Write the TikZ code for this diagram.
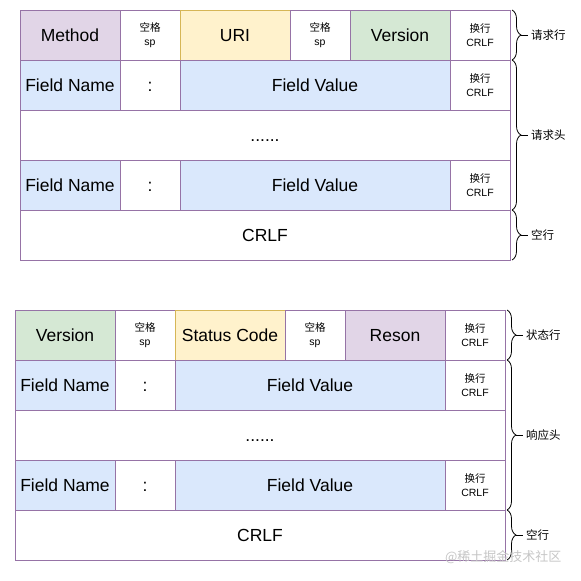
\documentclass[tikz,border=0pt]{standalone}
\usepackage{fontspec}
\setmainfont{Liberation Sans}
\newfontfamily\cjk{Noto Sans CJK SC}
\usepackage{tikz}
\usetikzlibrary{positioning}
\usetikzlibrary{decorations.pathreplacing}

\definecolor{lineBorder}{HTML}{9673A6}
\definecolor{lineYellow}{HTML}{D6B656}
\definecolor{fillPurple}{HTML}{E1D5E7}
\definecolor{fillYellow}{HTML}{FFF2CC}
\definecolor{fillGreen}{HTML}{D5E8D4}
\definecolor{fillBlue}{HTML}{DAE8FC}

\tikzset{
  cellBox/.style={
    draw=lineBorder, line width=0.8pt,
    rectangle, inner sep=0pt, outer sep=0pt,
    minimum height=50pt, align=center
  },
  cell/.style 2 args={
    cellBox, minimum width=#1, fill=#2,
    font=\fontsize{17.5}{21}\selectfont,
    text height=15.8pt, text depth=3.7pt
  },
  smallCell/.style={cellBox, minimum width=60pt, fill=white, font=\fontsize{10.5}{14}\selectfont},
  braceLine/.style={decorate, decoration={brace, amplitude=9pt}, line width=0.8pt},
  braceTick/.style={line width=0.8pt},
  braceText/.style={inner sep=3pt, font=\cjk\fontsize{11.5}{13}\selectfont}
}

\begin{document}
\begin{tikzpicture}[
  % cells are laid out in pt, one pt per pixel of the target
]

\useasboundingbox (0,0) rectangle (581pt,-581pt);

% --- request line ---
\node [cell={100pt}{fillPurple}, anchor=north west] (reqFirst) at (20pt,-10pt) {Method};
\node [smallCell, right=0pt of reqFirst] (reqSp1) {{\cjk 空格}\\sp};
\node [cell={110pt}{fillYellow}, draw=lineYellow, right=0pt of reqSp1] (reqMid) {URI};
\node [smallCell, right=0pt of reqMid] (reqSp2) {{\cjk 空格}\\sp};
\node [cell={100pt}{fillGreen}, right=0pt of reqSp2] (reqLast) {Version};
\node [smallCell, right=0pt of reqLast] (reqLf0) {{\cjk 换行}\\CRLF};

% --- status line ---
\node [cell={100pt}{fillGreen}, anchor=north west] (respFirst) at (15pt,-310pt) {Version};
\node [smallCell, right=0pt of respFirst] (respSp1) {{\cjk 空格}\\sp};
\node [cell={110pt}{fillYellow}, draw=lineYellow, right=0pt of respSp1] (respMid) {Status Code};
\node [smallCell, right=0pt of respMid] (respSp2) {{\cjk 空格}\\sp};
\node [cell={100pt}{fillPurple}, right=0pt of respSp2] (respLast) {Reson};
\node [smallCell, right=0pt of respLast] (respLf0) {{\cjk 换行}\\CRLF};

% --- header rows, blank line and braces ---
\foreach \tbl/\headLabel/\bodyLabel in {req/请求行/请求头, resp/状态行/响应头} {
  \node [cell={100pt}{fillBlue}, below right=0pt and 0pt of \tbl First.south west] (\tbl Name1) {Field Name};
  \node [cell={60pt}{white}, right=0pt of \tbl Name1] (\tbl Colon1) {:};
  \node [cell={270pt}{fillBlue}, right=0pt of \tbl Colon1] (\tbl Value1) {Field Value};
  \node [smallCell, right=0pt of \tbl Value1] (\tbl Lf1) {{\cjk 换行}\\CRLF};

  \node [cell={490pt}{white}, below right=0pt and 0pt of \tbl Name1.south west] (\tbl Dots) {......};

  \node [cell={100pt}{fillBlue}, below right=0pt and 0pt of \tbl Dots.south west] (\tbl Name2) {Field Name};
  \node [cell={60pt}{white}, right=0pt of \tbl Name2] (\tbl Colon2) {:};
  \node [cell={270pt}{fillBlue}, right=0pt of \tbl Colon2] (\tbl Value2) {Field Value};
  \node [smallCell, right=0pt of \tbl Value2] (\tbl Lf2) {{\cjk 换行}\\CRLF};

  \node [cell={490pt}{white}, below right=0pt and 0pt of \tbl Name2.south west] (\tbl Crlf) {CRLF};

  % braces
  \draw [braceLine] ([xshift=2pt]\tbl Lf0.north east) -- ([xshift=2pt]\tbl Lf0.south east);
  \coordinate (\tbl HeadTip) at ([xshift=11pt]\tbl Lf0.east);
  \node [braceText, right=7pt of \tbl HeadTip] (\tbl HeadText) {\headLabel};
  \draw [braceTick] (\tbl HeadTip) -- (\tbl HeadText);

  \draw [braceLine] ([xshift=2pt]\tbl Lf1.north east) -- ([xshift=2pt]\tbl Lf2.south east);
  \coordinate (\tbl BodyTip) at ([xshift=11pt]\tbl Dots.east);
  \node [braceText, right=7pt of \tbl BodyTip] (\tbl BodyText) {\bodyLabel};
  \draw [braceTick] (\tbl BodyTip) -- (\tbl BodyText);

  \draw [braceLine] ([xshift=2pt]\tbl Crlf.north east) -- ([xshift=2pt]\tbl Crlf.south east);
  \coordinate (\tbl BlankTip) at ([xshift=11pt]\tbl Crlf.east);
  \node [braceText, right=7pt of \tbl BlankTip] (\tbl BlankText) {空行};
  \draw [braceTick] (\tbl BlankTip) -- (\tbl BlankText);
}

% watermark
\node [text=gray!45, font=\cjk\fontsize{13}{15}\selectfont, anchor=east] (watermark) at (565pt,-557pt) {@稀土掘金技术社区};

\end{tikzpicture}
\end{document}
